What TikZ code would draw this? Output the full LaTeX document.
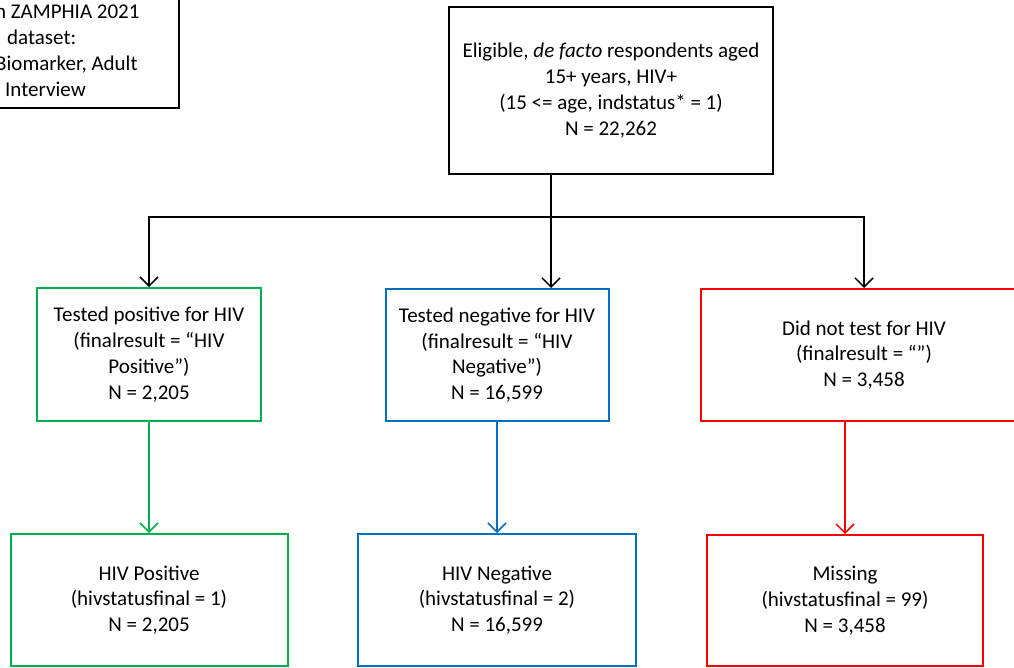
\documentclass[tikz,border=0pt]{standalone}
\usepackage{fontspec}
\setmainfont{Carlito}
\usetikzlibrary{arrows.meta}

\begin{document}
\begin{tikzpicture}[x=1pt,y=1pt,yscale=-1,xscale=1,
  txt/.style={font=\fontsize{21}{25.9}\selectfont},
  box/.style={txt, draw, line width=2, align=center, inner sep=0pt},
  posbox/.style={box, draw={rgb, 255:red, 0; green, 176; blue, 80 }},
  negbox/.style={box, draw={rgb, 255:red, 0; green, 112; blue, 192 }},
  misbox/.style={box, draw={rgb, 255:red, 255; green, 0; blue, 0 }},
  link/.style={line width=1.5, -{Straight Barb[length=9pt,width=18pt]}}]
%set diagram left start at 0, and has height of 667
\useasboundingbox (0,0) rectangle (1014,667);

\node (source) [box, minimum width=310pt, minimum height=116pt] at (24,50) {};
\node (sourcetext) [txt, anchor=west, align=left, inner sep=0pt] at (-5,51) {n ZAMPHIA 2021\\\hspace*{12pt}dataset:\\Biomarker, Adult\\\hspace*{10pt}Interview};

\node (elig) [box, minimum width=324pt, minimum height=167pt] at (611,90.5) {Eligible, \textit{de facto} respondents aged\\15+ years, HIV+\\(15 <= age, indstatus* = 1)\\N = 22,262};

\node (testpos) [posbox, minimum width=224pt, minimum height=133pt] at (149,354.5) {Tested positive for HIV\\(finalresult = “HIV\\Positive”)\\N = 2,205};
\node (testneg) [negbox, minimum width=223pt, minimum height=132pt] at (497,355) {Tested negative for HIV\\(finalresult = “HIV\\Negative”)\\N = 16,599};
\node (notest) [misbox, minimum width=326pt, minimum height=132pt] at (864,355) {Did not test for HIV\\(finalresult = “”)\\N = 3,458};

\node (hivpos) [posbox, minimum width=277pt, minimum height=132pt] at (149,600) {HIV Positive\\(hivstatusfinal = 1)\\N = 2,205};
\node (hivneg) [negbox, minimum width=278pt, minimum height=132pt] at (497,600) {HIV Negative\\(hivstatusfinal = 2)\\N = 16,599};
\node (missing) [misbox, minimum width=276pt, minimum height=131pt] at (845,600.5) {Missing\\(hivstatusfinal = 99)\\N = 3,458};

\coordinate (split) at (551,217);
\draw [line width=1.5] (elig.south -| split) -- (split);
\draw [link] (split) -| (testpos.north);
\draw [link] (split) -- (split |- testneg.north);
\draw [link] (split) -| (notest.north);

\draw [link, color={rgb, 255:red, 0; green, 176; blue, 80 }] (testpos) -- (hivpos);
\draw [link, color={rgb, 255:red, 0; green, 112; blue, 192 }] (testneg) -- (hivneg);
\draw [link, color={rgb, 255:red, 255; green, 0; blue, 0 }] (missing.north |- notest.south) -- (missing.north);

\end{tikzpicture}
\end{document}
